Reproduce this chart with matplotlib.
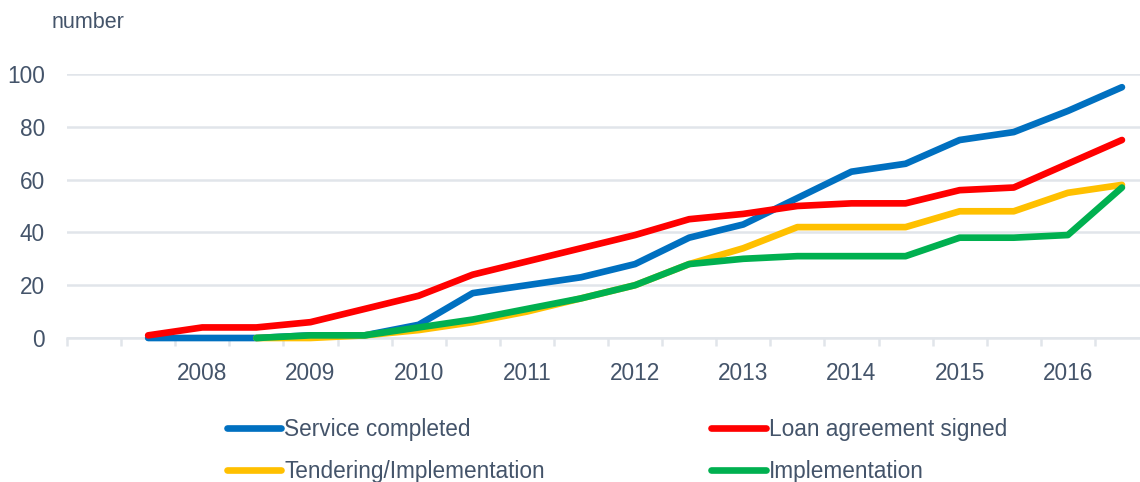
import matplotlib
matplotlib.use("Agg")
from matplotlib import pyplot
import numpy

pyplot.rcParams['font.family'] = ['Liberation Sans', 'DejaVu Sans']

# half-year periods, first slot left empty
periods = ["", "", "2008", "", "2009", "", "2010", "", "2011", "", "2012", "",
           "2013", "", "2014", "", "2015", "", "2016", ""]

service_completed = [None, 0, 0, 0, 1, 1, 5, 17, 20, 23, 28, 38, 43, 53, 63,
                     66, 75, 78, 86, 95]
loan_signed = [None, 1, 4, 4, 6, 11, 16, 24, 29, 34, 39, 45, 47, 50, 51,
               51, 56, 57, 66, 75]
tendering = [None, None, None, 0, 0, 1, 3, 6, 10, 15, 20, 28, 34, 42, 42,
             42, 48, 48, 55, 58]
implementation = [None, None, None, 0, 1, 1, 4, 7, 11, 15, 20, 28, 30, 31, 31,
                  31, 38, 38, 39, 57]

series = [("Service completed", service_completed, "#0070C0"),
          ("Loan agreement signed", loan_signed, "#FF0000"),
          ("Tendering/Implementation", tendering, "#FFC000"),
          ("Implementation", implementation, "#00B050")]

text_color = "#44546A"
grid_color = "#E1E5EA"

W, H = 1140, 482
fig = pyplot.figure(figsize=(W / 100, H / 100), dpi=100)
ax = fig.add_axes([67 / W, (H - 338) / H, (1149 - 67) / W, 264 / H])

x = numpy.arange(len(periods))
handles = {}
for name, values, color in series:
  vals = numpy.array([numpy.nan if v is None else v for v in values], dtype=float)
  line, = ax.plot(x, vals, color=color, lw=4.8, solid_capstyle='round',
                  solid_joinstyle='round', clip_on=False, zorder=3, label=name)
  handles[name] = line

ax.set_xlim(-0.5, len(periods) - 0.5)
ax.set_ylim(0, 100)
ax.set_yticks([0, 20, 40, 60, 80, 100])
ax.yaxis.grid(True, color=grid_color, lw=1.8)
ax.set_axisbelow(True)

label_pos = [i for i, p in enumerate(periods) if p]
ax.set_xticks(label_pos)
ax.set_xticklabels([periods[i] for i in label_pos])
ax.set_xticks(numpy.arange(-0.5, len(periods), 1.0), minor=True)
ax.tick_params(axis='x', which='major', length=0, pad=17, labelsize=16.3,
               labelcolor=text_color)
ax.tick_params(axis='x', which='minor', length=6, width=1.8, color=grid_color)
ax.tick_params(axis='y', length=0, pad=16, labelsize=16.3, labelcolor=text_color)

for side in ['top', 'right', 'left']:
  ax.spines[side].set_visible(False)
ax.spines['bottom'].set_color(grid_color)
ax.spines['bottom'].set_linewidth(1.8)

fig.text(52 / W, (H - 22) / H, "number", fontsize=15.5, color=text_color,
         ha='left', va='center')

order = ["Service completed", "Tendering/Implementation",
         "Loan agreement signed", "Implementation"]
leg = fig.legend([handles[n] for n in order], order, ncol=2, frameon=False,
                 loc='upper left', bbox_to_anchor=(227 / W, (H - 418) / H),
                 borderpad=0, borderaxespad=0, handlelength=2.4,
                 handletextpad=0.13, columnspacing=7.35, labelspacing=0.85,
                 fontsize=16.3)
for t in leg.get_texts():
  t.set_color(text_color)

fig.savefig("out.png", dpi=100)
